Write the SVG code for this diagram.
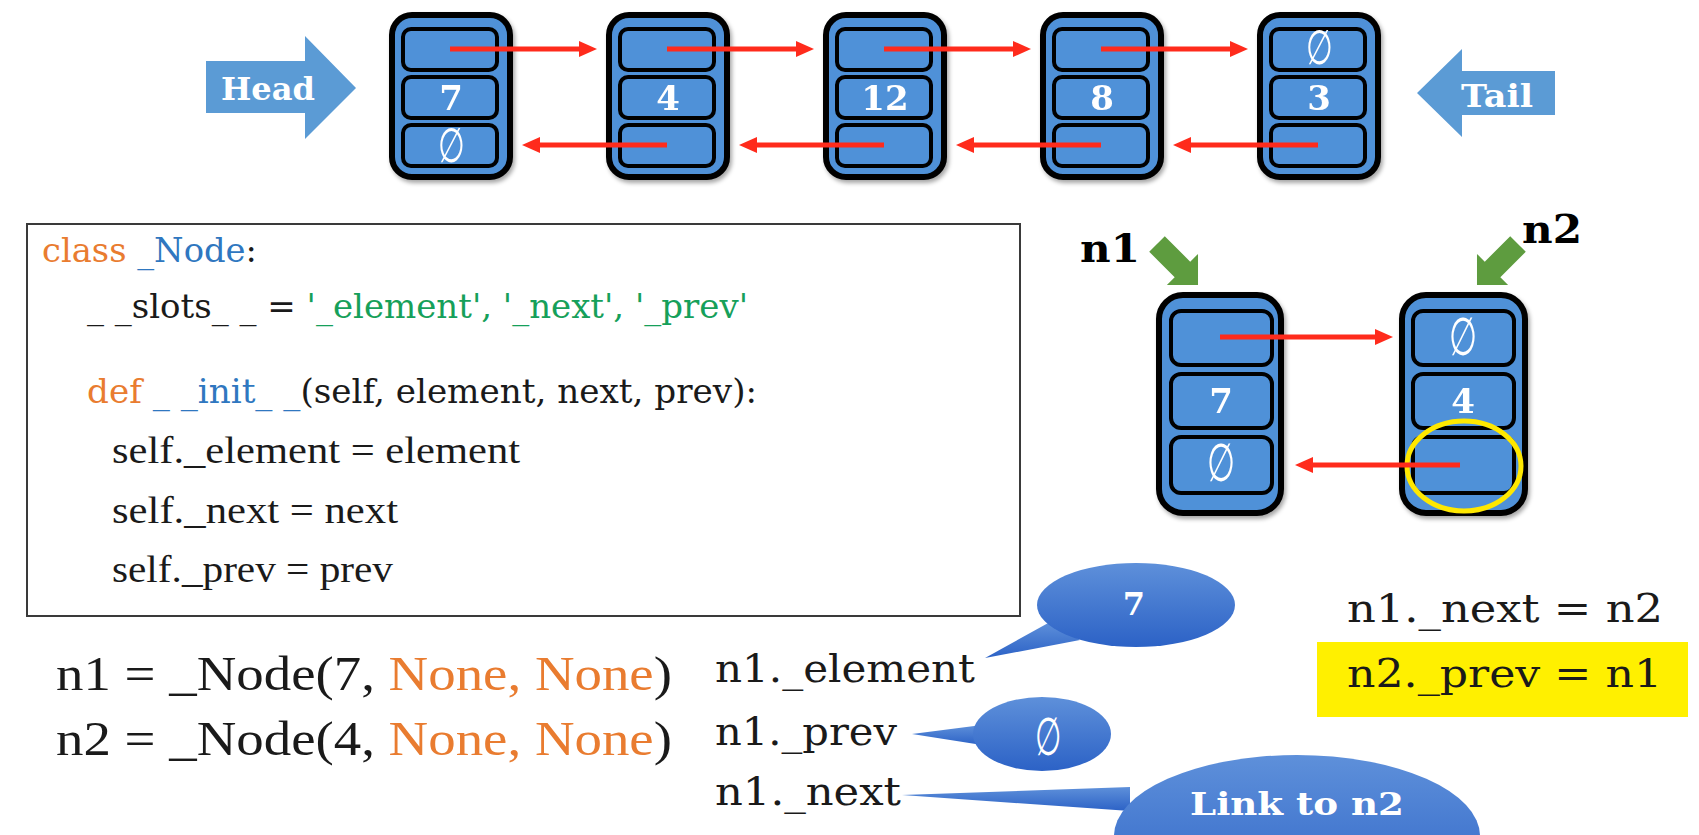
<svg xmlns="http://www.w3.org/2000/svg" width="1699" height="835" viewBox="0 0 1699 835">
<style>
.outer{fill:#4F91D8;stroke:#000;stroke-width:6}
.cell{fill:#4F91D8;stroke:#000;stroke-width:4}
.val{font-family:"DejaVu Serif",serif;font-weight:bold;font-size:34px;fill:#fff;text-anchor:middle}
.nul{font-family:"Liberation Serif","DejaVu Serif",serif;font-size:38px;fill:#fff;text-anchor:middle}
.lbl{font-family:"DejaVu Serif",serif;font-weight:bold;fill:#fff;text-anchor:middle}
.code{font-family:"DejaVu Serif",serif;font-size:34px;fill:#1a1a1a}
.code2{font-family:"Liberation Serif",serif;font-size:37px;fill:#1a1a1a}
.big{font-family:"Liberation Serif",serif;font-size:48px;fill:#1a1a1a}
.wide{font-family:"DejaVu Serif",serif;font-size:40px;fill:#1a1a1a}
.or{fill:#E97C30}.bl{fill:#2F77C0}.gr{fill:#16A05A}
.red{stroke:#FF2B1C;stroke-width:5;fill:none;marker-end:url(#ah)}
.bub{fill:url(#bg)}
.garrow{fill:#5E9C3F}
</style>
<defs>
<marker id="ah" markerUnits="userSpaceOnUse" markerWidth="20" markerHeight="18" refX="4" refY="9" orient="auto"><path d="M0,1 L18,9 L0,17 z" fill="#FF2B1C"/></marker>
<linearGradient id="bg" x1="0" y1="0" x2="0" y2="1"><stop offset="0" stop-color="#5E90DA"/><stop offset="1" stop-color="#2C62C6"/></linearGradient>
<filter id="sh" x="-10%" y="-10%" width="130%" height="130%"><feDropShadow dx="2" dy="3" stdDeviation="2" flood-opacity="0.35"/></filter>
</defs>
<rect width="1699" height="835" fill="#fff"/>

<g id="head">
<polygon points="206,61 305,61 305,36 356,88 305,139 305,113 206,113" fill="#5B9BD5"/>
<text class="lbl" x="268" y="100" font-size="31" textLength="94" lengthAdjust="spacingAndGlyphs">Head</text>
</g>
<g id="tail">
<polygon points="1555,71 1462,71 1462,49 1417,93 1462,137 1462,115 1555,115" fill="#5B9BD5"/>
<text class="lbl" x="1497" y="107" font-size="31" textLength="72" lengthAdjust="spacingAndGlyphs">Tail</text>
</g>

<g id="node-7" filter="url(#sh)">
<rect class="outer" x="392" y="15" width="118" height="162" rx="20"/>
<rect class="cell" x="403" y="29" width="94" height="41" rx="8"/>
<rect class="cell" x="403" y="77" width="94" height="41" rx="8"/>
<rect class="cell" x="403" y="125" width="94" height="41" rx="8"/>
<text class="val" x="451" y="110">7</text>
<text class="nul" transform="translate(451,162) scale(0.8,1.25)">∅</text>
</g>
<g id="node-4" filter="url(#sh)">
<rect class="outer" x="609" y="15" width="118" height="162" rx="20"/>
<rect class="cell" x="620" y="29" width="94" height="41" rx="8"/>
<rect class="cell" x="620" y="77" width="94" height="41" rx="8"/>
<rect class="cell" x="620" y="125" width="94" height="41" rx="8"/>
<text class="val" x="668" y="110">4</text>
</g>
<g id="node-12" filter="url(#sh)">
<rect class="outer" x="826" y="15" width="118" height="162" rx="20"/>
<rect class="cell" x="837" y="29" width="94" height="41" rx="8"/>
<rect class="cell" x="837" y="77" width="94" height="41" rx="8"/>
<rect class="cell" x="837" y="125" width="94" height="41" rx="8"/>
<text class="val" x="885" y="110">12</text>
</g>
<g id="node-8" filter="url(#sh)">
<rect class="outer" x="1043" y="15" width="118" height="162" rx="20"/>
<rect class="cell" x="1054" y="29" width="94" height="41" rx="8"/>
<rect class="cell" x="1054" y="77" width="94" height="41" rx="8"/>
<rect class="cell" x="1054" y="125" width="94" height="41" rx="8"/>
<text class="val" x="1102" y="110">8</text>
</g>
<g id="node-3" filter="url(#sh)">
<rect class="outer" x="1260" y="15" width="118" height="162" rx="20"/>
<rect class="cell" x="1271" y="29" width="94" height="41" rx="8"/>
<rect class="cell" x="1271" y="77" width="94" height="41" rx="8"/>
<rect class="cell" x="1271" y="125" width="94" height="41" rx="8"/>
<text class="val" x="1319" y="110">3</text>
<text class="nul" transform="translate(1319,64) scale(0.8,1.25)">∅</text>
</g>

<g id="code-box">
<rect x="27" y="224" width="993" height="392" fill="#fff" stroke="#3a3a3a" stroke-width="2"/>
<text class="code" x="42" y="262" textLength="215" lengthAdjust="spacingAndGlyphs"><tspan class="or">class </tspan><tspan class="bl">_Node</tspan>:</text>
<text class="code" x="87" y="318" textLength="661" lengthAdjust="spacingAndGlyphs">_ _slots_ _ = <tspan class="gr">'_element', '_next', '_prev'</tspan></text>
<text class="code" x="87" y="403" textLength="670" lengthAdjust="spacingAndGlyphs"><tspan class="or">def </tspan><tspan class="bl">_ _init_ _</tspan>(self, element, next, prev):</text>
<text class="code2" x="112" y="463" textLength="408" lengthAdjust="spacingAndGlyphs">self._element = element</text>
<text class="code2" x="112" y="523" textLength="286" lengthAdjust="spacingAndGlyphs">self._next = next</text>
<text class="code2" x="112" y="582" textLength="281" lengthAdjust="spacingAndGlyphs">self._prev = prev</text>
</g>

<g id="create-lines">
<text class="big" x="56" y="690" textLength="616" lengthAdjust="spacingAndGlyphs">n1 = _Node(7, <tspan class="or">None, None</tspan>)</text>
<text class="big" x="56" y="755" textLength="616" lengthAdjust="spacingAndGlyphs">n2 = _Node(4, <tspan class="or">None, None</tspan>)</text>
</g>

<g id="bubble-7">
<polygon class="bub" points="1050,622 985,658 1080,640"/>
<ellipse class="bub" cx="1136" cy="605" rx="99" ry="42"/>
<text class="lbl" x="1134" y="615" font-size="32">7</text>
</g>
<g id="bubble-null">
<polygon class="bub" points="982,725 912,734 982,745"/>
<ellipse class="bub" cx="1042" cy="734" rx="69" ry="37"/>
<text class="nul" transform="translate(1048,755) scale(0.8,1.4)">∅</text>
</g>
<g id="bubble-link">
<polygon class="bub" points="1130,787 902,795 1130,811"/>
<ellipse class="bub" cx="1297" cy="836" rx="183" ry="81"/>
<text class="lbl" x="1297" y="815" font-size="32" textLength="214" lengthAdjust="spacingAndGlyphs">Link to n2</text>
</g>

<g id="attr-lines">
<text class="wide" x="715" y="682" textLength="260" lengthAdjust="spacingAndGlyphs">n1._element</text>
<text class="wide" x="715" y="745" textLength="182" lengthAdjust="spacingAndGlyphs">n1._prev</text>
<text class="wide" x="715" y="805" textLength="186" lengthAdjust="spacingAndGlyphs">n1._next</text>
</g>

<g id="assign">
<text class="wide" x="1347" y="622" textLength="316" lengthAdjust="spacingAndGlyphs">n1._next = n2</text>
<rect x="1317" y="642" width="371" height="75" fill="#FFF000"/>
<text class="wide" x="1347" y="687" textLength="315" lengthAdjust="spacingAndGlyphs">n2._prev = n1</text>
</g>

<g id="n1-label">
<text x="1080" y="262" font-family="DejaVu Serif, serif" font-weight="bold" font-size="40" fill="#000" textLength="60" lengthAdjust="spacingAndGlyphs">n1</text>
<path class="garrow" transform="translate(1157,244) rotate(45)" d="M0,-11 L36,-11 L36,-22 L58,0 L36,22 L36,11 L0,11 Z"/>
</g>
<g id="n2-label">
<text x="1522" y="243" font-family="DejaVu Serif, serif" font-weight="bold" font-size="40" fill="#000" textLength="60" lengthAdjust="spacingAndGlyphs">n2</text>
<path class="garrow" transform="translate(1518,244) rotate(135)" d="M0,-11 L36,-11 L36,-22 L58,0 L36,22 L36,11 L0,11 Z"/>
</g>

<g id="n1-node" filter="url(#sh)">
<rect class="outer" x="1159" y="295" width="122" height="218" rx="24"/>
<rect class="cell" x="1171" y="311" width="101" height="54" rx="10"/>
<rect class="cell" x="1171" y="374" width="101" height="54" rx="10"/>
<rect class="cell" x="1171" y="437" width="101" height="56" rx="10"/>
<text class="val" x="1221" y="413">7</text>
<text class="nul" transform="translate(1221,481) scale(0.85,1.4)">∅</text>
</g>
<g id="n2-node" filter="url(#sh)">
<rect class="outer" x="1402" y="295" width="123" height="218" rx="24"/>
<rect class="cell" x="1413" y="311" width="101" height="54" rx="10"/>
<rect class="cell" x="1413" y="374" width="101" height="54" rx="10"/>
<rect class="cell" x="1413" y="437" width="101" height="56" rx="10"/>
<text class="val" x="1463" y="413">4</text>
<text class="nul" transform="translate(1463,355) scale(0.85,1.4)">∅</text>
</g>
<ellipse id="highlight" cx="1464" cy="466" rx="57" ry="45" fill="none" stroke="#FFE800" stroke-width="5"/>

<g id="connectors">
<line class="red" x1="450" y1="49" x2="583" y2="49"/>
<line class="red" x1="667" y1="49" x2="800" y2="49"/>
<line class="red" x1="884" y1="49" x2="1017" y2="49"/>
<line class="red" x1="1101" y1="49" x2="1234" y2="49"/>
<line class="red" x1="667" y1="145" x2="536" y2="145"/>
<line class="red" x1="884" y1="145" x2="753" y2="145"/>
<line class="red" x1="1101" y1="145" x2="970" y2="145"/>
<line class="red" x1="1318" y1="145" x2="1187" y2="145"/>
<line class="red" x1="1220" y1="337" x2="1379" y2="337"/>
<line class="red" x1="1460" y1="465" x2="1309" y2="465"/>
</g>
</svg>
